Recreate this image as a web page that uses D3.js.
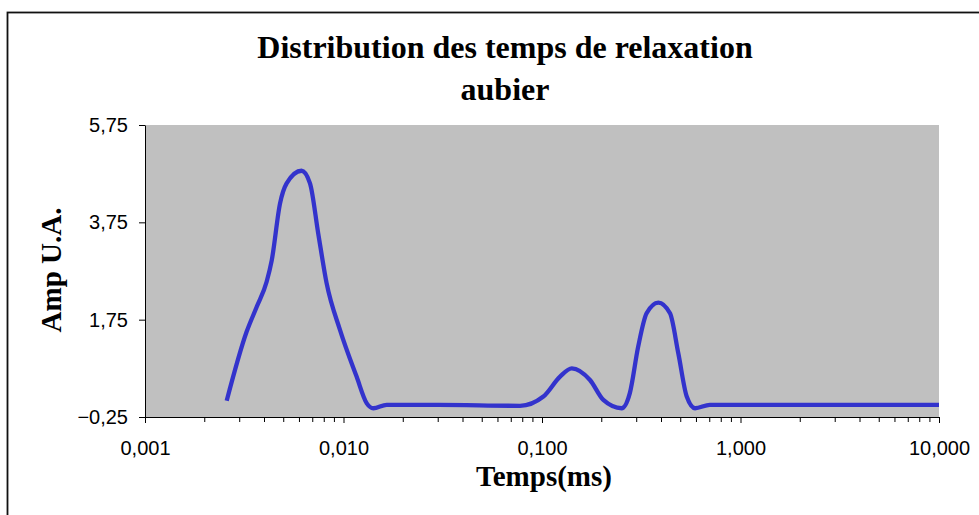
<!DOCTYPE html>
<html>
<head>
<meta charset="utf-8">
<script src="https://cdn.jsdelivr.net/npm/d3@7"></script>
<style>
  html, body { margin: 0; padding: 0; background: #fff; }
  svg { display: block; }
</style>
</head>
<body>
<svg id="chart" width="979" height="515"></svg>
<script>
// Relaxation time (ms) and amplitude (arbitrary units)
const temps = [0.00258, 0.00325, 0.00366, 0.0041, 0.00435, 0.00479, 0.00517, 0.00615, 0.00678,
  0.00746, 0.00822, 0.0096, 0.01164, 0.0131, 0.01413, 0.0165, 0.03, 0.0775, 0.1016, 0.1233,
  0.1413, 0.1745, 0.2037, 0.252, 0.277, 0.305, 0.3365, 0.3855, 0.4415, 0.486, 0.536, 0.59,
  0.701, 2, 10];
const amplitudes = [0.085, 1.50, 2.02, 2.53, 2.97, 4.14, 4.55, 4.81, 4.55,
  3.52, 2.50, 1.54, 0.58, 0.03, -0.07, 0.0, 0.0, -0.02, 0.17, 0.58,
  0.75, 0.51, 0.10, -0.07, 0.24, 1.19, 1.88, 2.10, 1.88, 1.06, 0.17, -0.07,
  0.0, 0.0, 0.0];
const yTicks = [-0.25, 1.75, 3.75, 5.75];
const xMajorTicks = [0.001, 0.01, 0.1, 1, 10];

const titleLines = ["Distribution des temps de relaxation", "aubier"];
const xTitle = "Temps(ms)";
const yTitle = "Amp U.A.";

const svg = d3.select("#chart");
const plot = { left: 145, right: 939, top: 125, bottom: 417 };

const fr = d3.formatLocale({ decimal: ",", thousands: " ", grouping: [3], currency: ["", ""] });
const fmtY = fr.format(".2f");
const fmtX = fr.format(".3f");

const x = d3.scaleLog().domain([0.001, 10]).range([plot.left, plot.right]);
const y = d3.scaleLinear().domain([-0.25, 5.75]).range([plot.bottom, plot.top]);

// outer frame
svg.append("rect")
  .attr("x", 7.5).attr("y", 12.5)
  .attr("width", 1000).attr("height", 600)
  .attr("fill", "#fff").attr("stroke", "#111").attr("stroke-width", 1.8);

// plot background
svg.append("rect")
  .attr("x", plot.left).attr("y", plot.top)
  .attr("width", plot.right - plot.left).attr("height", plot.bottom - plot.top)
  .attr("fill", "#c0c0c0");

// minor x ticks
const minor = [];
for (let d = 0; d < 4; d++) {
  for (let k = 2; k <= 9; k++) minor.push(k * xMajorTicks[d]);
}

const sans = "Liberation Sans, Arial, sans-serif";

const xAxis = d3.axisBottom(x)
  .tickValues(xMajorTicks)
  .tickFormat(fmtX)
  .tickSizeInner(6).tickSizeOuter(0).tickPadding(17.5);

const gx = svg.append("g").attr("transform", `translate(0,${plot.bottom})`).call(xAxis);
gx.select(".domain").attr("stroke", "#000").attr("stroke-width", 1);
gx.selectAll(".tick line").attr("stroke", "#000");
gx.selectAll(".tick text")
  .attr("font-family", sans)
  .attr("font-size", 20).attr("fill", "#000");

svg.append("g").selectAll("line").data(minor).join("line")
  .attr("x1", d => x(d)).attr("x2", d => x(d))
  .attr("y1", plot.bottom).attr("y2", plot.bottom + 5)
  .attr("stroke", "#000").attr("stroke-width", 1);

const yAxis = d3.axisLeft(y)
  .tickValues(yTicks)
  .tickFormat(fmtY)
  .tickSizeInner(6).tickSizeOuter(0).tickPadding(11);

const gy = svg.append("g").attr("transform", `translate(${plot.left},0)`).call(yAxis);
gy.select(".domain").attr("stroke", "#000").attr("stroke-width", 1);
gy.selectAll(".tick line").attr("stroke", "#000");
gy.selectAll(".tick text")
  .attr("font-family", sans)
  .attr("font-size", 20).attr("fill", "#000");

// distribution curve
const line = d3.line()
  .x((d, i) => x(temps[i]))
  .y(d => y(d))
  .curve(d3.curveMonotoneX);

svg.append("path")
  .datum(amplitudes)
  .attr("d", line)
  .attr("fill", "none")
  .attr("stroke", "#3333cc")
  .attr("stroke-width", 4.3)
  .attr("stroke-linejoin", "round");

// titles
const serif = "Liberation Serif, Times New Roman, serif";
svg.append("text")
  .attr("x", 505).attr("y", 58)
  .attr("text-anchor", "middle")
  .attr("font-family", serif).attr("font-weight", "bold").attr("font-size", 32)
  .text(titleLines[0]);
svg.append("text")
  .attr("x", 505).attr("y", 100)
  .attr("text-anchor", "middle")
  .attr("font-family", serif).attr("font-weight", "bold").attr("font-size", 32)
  .text(titleLines[1]);

svg.append("text")
  .attr("x", 544).attr("y", 486)
  .attr("text-anchor", "middle")
  .attr("font-family", serif).attr("font-weight", "bold").attr("font-size", 29)
  .text(xTitle);

svg.append("text")
  .attr("transform", "translate(61,270) rotate(-90)")
  .attr("text-anchor", "middle")
  .attr("font-family", serif).attr("font-weight", "bold").attr("font-size", 29)
  .text(yTitle);
</script>
</body>
</html>
